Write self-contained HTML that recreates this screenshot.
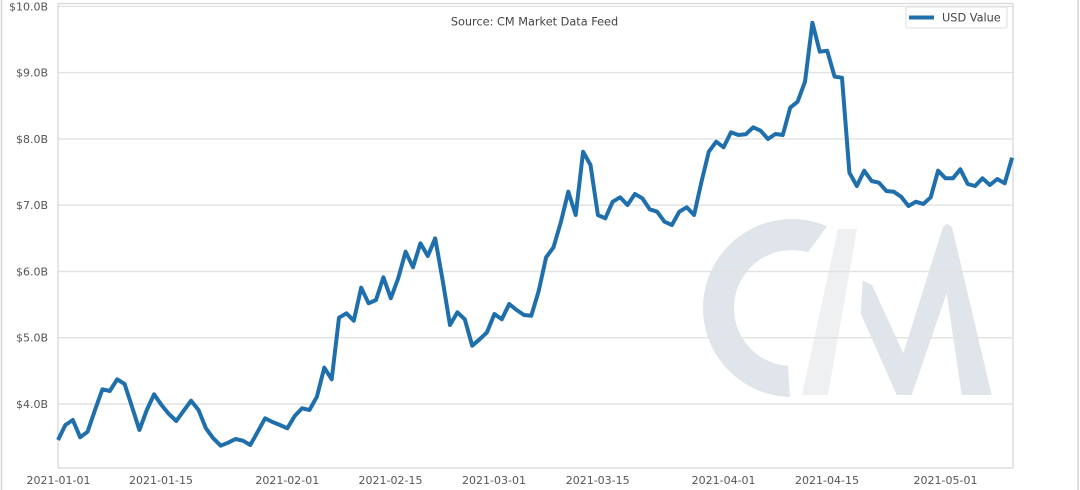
<!DOCTYPE html>
<html>
<head>
<meta charset="utf-8">
<style>
  html, body { margin: 0; padding: 0; background: #ffffff; }
  svg { display: block; }
  text { font-family: "DejaVu Sans", "Liberation Sans", sans-serif; }
</style>
</head>
<body>
<svg width="1080" height="490" viewBox="0 0 1080 490" xmlns="http://www.w3.org/2000/svg">
  <rect x="0" y="0" width="1080" height="490" fill="#ffffff"/>
  <!-- outer image borders -->
  <line x1="1.5" y1="0" x2="1.5" y2="490" stroke="#d4d4d4" stroke-width="1.5"/>
  <line x1="1078" y1="0" x2="1078" y2="490" stroke="#d4d4d4" stroke-width="1.5"/>

  <!-- watermark -->
  <path d="M 827 226.2 A 89 89 0 1 0 790 397 L 788 365.9 A 58 58 0 1 1 808 252.3 Z" fill="#dfe5ea"/>
  <polygon points="838,229 857,229 828,395 802,395" fill="#eef0f2"/>
  <polygon points="862.7,280.7 872,285 903.3,353.3 943,227 947,223.5 952,227 991.7,395 961.7,395 946.7,293.3 911.7,395 896.7,395 860.7,313.3" fill="#dfe5ea"/>

  <!-- gridlines -->
  <g stroke="#e2e2e2" stroke-width="1.4">
    <line x1="58" y1="6.4" x2="1013" y2="6.4"/>
    <line x1="58" y1="72.6" x2="1013" y2="72.6"/>
    <line x1="58" y1="138.9" x2="1013" y2="138.9"/>
    <line x1="58" y1="205.2" x2="1013" y2="205.2"/>
    <line x1="58" y1="271.5" x2="1013" y2="271.5"/>
    <line x1="58" y1="337.7" x2="1013" y2="337.7"/>
    <line x1="58" y1="404" x2="1013" y2="404"/>
  </g>

  <!-- spines -->
  <g stroke="#d8d8d8" stroke-width="1.3" fill="none">
    <line x1="58" y1="3.5" x2="1013" y2="3.5"/>
    <line x1="58" y1="3.5" x2="58" y2="468"/>
    <line x1="1013" y1="3.5" x2="1013" y2="468"/>
    <line x1="58" y1="468" x2="1013" y2="468"/>
  </g>

  <!-- y tick labels -->
  <g font-size="11" fill="#555555" text-anchor="end">
    <text x="48" y="10.4">$10.0B</text>
    <text x="48" y="76.6">$9.0B</text>
    <text x="48" y="142.9">$8.0B</text>
    <text x="48" y="209.2">$7.0B</text>
    <text x="48" y="275.5">$6.0B</text>
    <text x="48" y="341.7">$5.0B</text>
    <text x="48" y="408">$4.0B</text>
  </g>

  <!-- x tick labels -->
  <g font-size="11" fill="#555555" text-anchor="middle">
    <text x="58.5" y="484">2021-01-01</text>
    <text x="161" y="484">2021-01-15</text>
    <text x="287.3" y="484">2021-02-01</text>
    <text x="390.5" y="484">2021-02-15</text>
    <text x="494" y="484">2021-03-01</text>
    <text x="597.7" y="484">2021-03-15</text>
    <text x="723.6" y="484">2021-04-01</text>
    <text x="827" y="484">2021-04-15</text>
    <text x="945.5" y="484">2021-05-01</text>
  </g>

  <!-- title -->
  <text x="534.5" y="25.5" font-size="11.3" fill="#444444" text-anchor="middle">Source: CM Market Data Feed</text>

  <!-- data line -->
  <polyline fill="none" stroke="#1f6fad" stroke-width="4" stroke-linejoin="round" stroke-linecap="butt" points="
58.0,440 65.4,425 72.8,420 80.2,437.3 87.6,431.7 95.0,410 102.4,389.3 109.8,391 117.2,379.3 124.6,384
132.0,406.7 139.4,430 146.8,410 154.1,394.3 161.5,405 168.9,414 176.3,421 183.7,410.7 191.1,400.7 198.5,410
205.9,428.3 213.3,438.3 220.7,445.7 228.1,442.7 235.5,439 242.9,440.7 250.3,445 257.7,431.7 265.1,418.3 272.5,422
279.9,425 287.3,428.3 294.7,416 302.1,408.3 309.5,410 316.9,396.7 324.3,367.7 331.7,379.3 339.0,317.7 346.4,313.3
353.8,320.7 361.2,287.7 368.6,303.3 376.0,300 383.4,277.3 390.8,298.3 398.2,278.3 405.6,251.7 413.0,267.3 420.4,243.3
427.8,256 435.2,238.3 442.6,280 450.0,325 457.4,312.3 464.8,319.3 472.2,345.7 479.6,339.3 487.0,332.3 494.4,314
501.8,319.3 509.2,304 516.6,310 524.0,315 531.3,315.7 538.7,291 546.1,257.3 553.5,247.3 560.9,222 568.3,191.7
575.7,215 583.1,151.7 590.5,165 597.9,215 605.3,218.3 612.7,201.7 620.1,197.3 627.5,205 634.9,194 642.3,198.3
649.7,209.3 657.1,211.7 664.5,221.7 671.9,225 679.3,211.7 686.7,207.3 694.1,215 701.5,181.7 708.8,151.7 716.2,141.7
723.6,147.3 731.0,132.3 738.4,135 745.8,134.3 753.2,127.3 760.6,130.7 768.0,139 775.4,134 782.8,135 790.2,107.7
797.6,101.7 805.0,81.7 812.4,22.7 819.8,51.7 827.2,50.7 834.6,76.7 842.0,77.7 849.4,172.7 856.8,186 864.2,170.7
871.6,181 879.0,182.7 886.4,191 893.7,191.7 901.1,196.7 908.5,206 915.9,201.7 923.3,204 930.7,197.3 938.1,170.7
945.5,178.3 952.9,178.3 960.3,169.3 967.7,184 975.1,186 982.5,178.3 989.9,185 997.3,179 1004.7,183.3 1012.1,157.7"/>

  <!-- legend -->
  <rect x="906" y="7" width="101" height="21" rx="2" ry="2" fill="#ffffff" stroke="#dddddd" stroke-width="1"/>
  <line x1="909" y1="17.5" x2="934" y2="17.5" stroke="#1f6fad" stroke-width="4"/>
  <text x="942" y="21.5" font-size="11.3" fill="#444444">USD Value</text>
</svg>
</body>
</html>
